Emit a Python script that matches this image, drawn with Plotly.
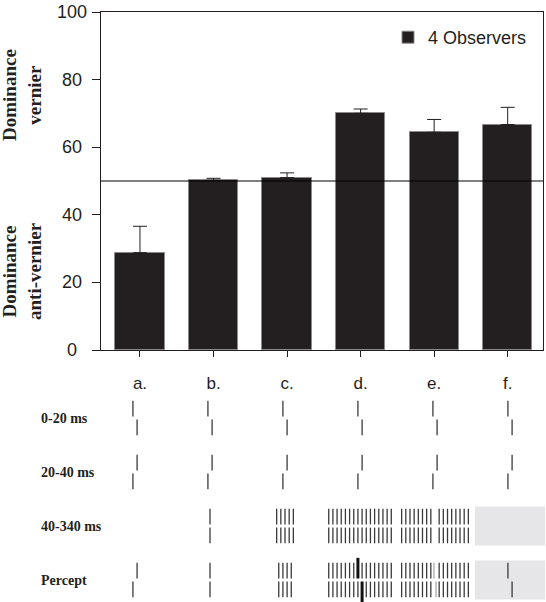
import plotly.graph_objects as go

# ---------------- data ----------------
categories = ["a.", "b.", "c.", "d.", "e.", "f."]
dominance = [28.8, 50.2, 51.0, 70.0, 64.4, 66.7]
sem_upper = [7.8, 0.6, 1.4, 1.3, 3.8, 5.1]
chance_level = 50
series_name = "4 Observers"

y_ticks = [0, 20, 40, 60, 80, 100]

frame_labels = ["0-20 ms", "20-40 ms", "40-340 ms", "Percept"]
# stimulus schematic (per condition)
frame1_vernier = [1, 1, 1, 1, 1, 1]           # +1 vernier, -1 anti-vernier
frame2_vernier = [-1, -1, -1, -1, -1, -1]
frame3_elements = [0, 1, 5, 16, 17, 0]        # grating elements
frame3_gap = [False, False, False, False, True, False]
frame3_mask = [False, False, False, False, False, True]
percept_elements = [0, 1, 4, 16, 17, 0]
percept_gap = [False, False, False, False, True, False]
percept_mask = [False, False, False, False, False, True]
percept_vernier = [-1, 0, 0, 1, 1, 1]         # vernier seen in percept
percept_style = ["thin", "none", "none", "bold", "faint", "thin"]

# ---------------- style ----------------
INK = "#231f20"
SANS = "Liberation Sans, Arial, sans-serif"
SERIF = "Liberation Serif, Times New Roman, serif"
W, H = 546, 602

fig = go.Figure()

fig.add_trace(go.Bar(
    x=list(range(len(categories))), y=dominance, name=series_name,
    width=0.67,
    marker=dict(color=INK, line=dict(color="#8a8a8a", width=1)),
    error_y=dict(type="data", array=sem_upper, arrayminus=[0] * len(sem_upper),
                 symmetric=False, color=INK, thickness=1, width=7),
    xaxis="x", yaxis="y",
))

# ---------------- schematic ----------------
SP = 0.0556      # element spacing (category units)
HG = 0.03        # half gap between upper and lower segment (row units)
SEG = 0.29       # segment length (row units)

thin_x, thin_y = [], []
bold_x, bold_y = [], []
faint_x, faint_y = [], []
masks = []


def seg(xs, ys, x, r, upper, ext=0.0):
    if upper:
        xs += [x, x, None]; ys += [r - HG - SEG - ext, r - HG, None]
    else:
        xs += [x, x, None]; ys += [r + HG, r + HG + SEG + ext, None]


def vernier(xs, ys, c, r, d, ext=0.0):
    seg(xs, ys, c - d * SP / 2, r, True, ext)
    seg(xs, ys, c + d * SP / 2, r, False, ext)


def grating(c, r, n, gap):
    for k in range(n):
        off = (k - (n - 1) / 2) * SP
        if gap and abs(off) < 1e-9:
            continue
        seg(thin_x, thin_y, c + off, r, True)
        seg(thin_x, thin_y, c + off, r, False)


for i in range(len(categories)):
    vernier(thin_x, thin_y, i, 0, frame1_vernier[i])
    vernier(thin_x, thin_y, i, 1, frame2_vernier[i])
    if frame3_mask[i]:
        masks.append((i, 2))
    grating(i, 2, frame3_elements[i], frame3_gap[i])
    if percept_mask[i]:
        masks.append((i, 3))
    grating(i, 3, percept_elements[i], percept_gap[i])
    st = percept_style[i]
    if st == "thin":
        vernier(thin_x, thin_y, i, 3, percept_vernier[i])
    elif st == "bold":
        vernier(bold_x, bold_y, i, 3, percept_vernier[i], ext=0.09)
    elif st == "faint":
        vernier(faint_x, faint_y, i, 3, percept_vernier[i] * 0.5)

for xs, ys, col, wd in [(thin_x, thin_y, "#3a3a3a", 1.3),
                        (faint_x, faint_y, "#b5b5b5", 1.5),
                        (bold_x, bold_y, "#111111", 3)]:
    fig.add_trace(go.Scatter(x=xs, y=ys, mode="lines", showlegend=False,
                             hoverinfo="skip", line=dict(color=col, width=wd),
                             xaxis="x2", yaxis="y2"))

shapes = [dict(type="line", xref="x domain", yref="y", x0=0, x1=1,
               y0=chance_level, y1=chance_level, line=dict(color="#000", width=1))]
for (i, r) in masks:
    shapes.append(dict(type="rect", xref="x2", yref="y2", x0=i - 0.467, x1=i + 0.467,
                       y0=r - 0.36, y1=r + 0.36, fillcolor="#e6e5e7",
                       line=dict(width=0), layer="below"))

annotations = [
    dict(text="<b>Dominance<br>vernier</b>", xref="paper", yref="paper",
         x=22 / W, y=1 - 95 / H, textangle=-90, showarrow=False,
         xanchor="center", yanchor="middle",
         font=dict(family=SERIF, size=19, color=INK)),
    dict(text="<b>Dominance<br>anti-vernier</b>", xref="paper", yref="paper",
         x=22 / W, y=1 - 271 / H, textangle=-90, showarrow=False,
         xanchor="center", yanchor="middle",
         font=dict(family=SERIF, size=19, color=INK)),
]
# centred y tick labels
for v in y_ticks:
    annotations.append(dict(text=str(v), xref="paper", yref="y", x=72 / W, y=v,
                            xanchor="center", yanchor="middle", showarrow=False,
                            font=dict(family=SANS, size=18, color=INK)))
for r, lab in enumerate(frame_labels):
    annotations.append(dict(text="<b>%s</b>" % lab, xref="paper", yref="y2",
                            x=39 / W, y=r, xanchor="left", yanchor="middle",
                            showarrow=False,
                            font=dict(family=SERIF, size=14, color=INK)))

r0, rs = 418, 54
y2_top, y2_bot = 390, 602

fig.update_layout(
    width=W, height=H, margin=dict(l=0, r=0, t=0, b=0, autoexpand=False),
    paper_bgcolor="white", plot_bgcolor="white",
    font=dict(family=SANS, size=18, color=INK),
    bargap=0,
    xaxis=dict(domain=[101 / W, 543 / W], range=[-0.53, 5.48],
               tickvals=list(range(len(categories))), ticktext=categories,
               ticks="outside", ticklen=6, tickcolor=INK, showline=True,
               linecolor=INK, linewidth=1, mirror=True, showgrid=False,
               zeroline=False, ticklabelstandoff=12, anchor="y",
               automargin=False, tickfont=dict(size=17)),
    yaxis=dict(domain=[(H - 350) / H, (H - 12) / H], range=[0, 100],
               tickvals=y_ticks, showticklabels=False, ticks="outside",
               ticklen=8, tickcolor=INK,
               showline=True, linecolor=INK, linewidth=1, mirror=True,
               showgrid=False, zeroline=False, anchor="x",
               automargin=False),
    xaxis2=dict(domain=[0, 1], range=[-135 / 75, (W - 135) / 75], visible=False,
                anchor="y2", automargin=False),
    yaxis2=dict(domain=[0, (y2_bot - y2_top) / H],
                range=[(y2_bot - r0) / rs, (y2_top - r0) / rs], visible=False,
                anchor="x2", automargin=False),
    showlegend=True,
    legend=dict(x=388 / W, y=1 - 19 / H, xanchor="left", yanchor="top",
                bgcolor="rgba(0,0,0,0)", font=dict(size=18, color=INK)),
    shapes=shapes, annotations=annotations,
)

fig.write_html("out.html", config={"displayModeBar": False},
               post_script="document.body.style.margin='0';document.body.style.padding='0';")
